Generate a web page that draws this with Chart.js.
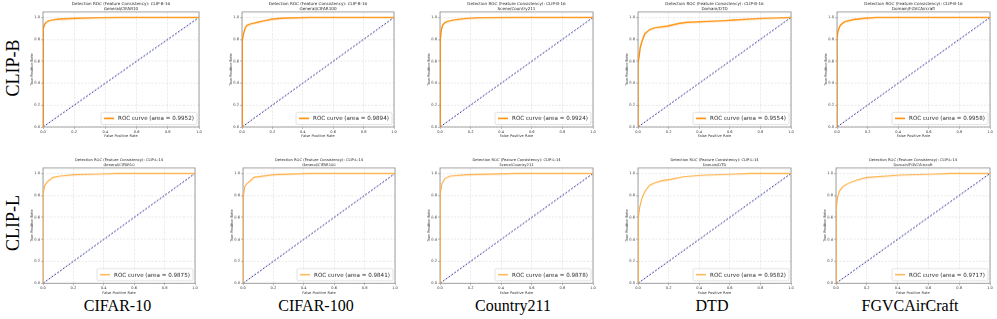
<!DOCTYPE html>
<html><head><meta charset="utf-8">
<script src="https://cdn.jsdelivr.net/npm/chart.js@4.4.1/dist/chart.umd.min.js"></script>
<style>
html,body{margin:0;padding:0;background:#fff;}
body{width:997px;height:319px;position:relative;overflow:hidden;}
.cw{position:absolute;}
.cw canvas{display:block;}
.rowlab{position:absolute;font-family:'Liberation Serif','Times New Roman',serif;font-size:18px;color:#000;transform:translate(-50%,-50%) rotate(-90deg);white-space:nowrap;line-height:1;}
.collab{position:absolute;font-family:'Liberation Serif','Times New Roman',serif;font-size:16px;color:#000;transform:translate(-50%,-50%);white-space:nowrap;line-height:1;}
</style></head><body>
<script>
// ---------------- DATA ----------------
const rowModels = ['CLIP-B-16', 'CLIP-L-14'];
const rowLabels = ['CLIP-B', 'CLIP-L'];
const colLabels = ['CIFAR-10', 'CIFAR-100', 'Country211', 'DTD', 'FGVCAirCraft'];
const subsets = ['General/CIFAR10', 'General/CIFAR100', 'Scene/Country211', 'Domain/DTD', 'Domain/FGVCAircraft'];
const aucB = [0.9952, 0.9894, 0.9924, 0.9554, 0.9958];
const aucL = [0.9875, 0.9841, 0.9878, 0.9582, 0.9717];
const axisTicks = [0.0, 0.2, 0.4, 0.6, 0.8, 1.0];
const diagX = [0, 1];
const diagY = [0, 1];

// CLIP-B-16 ROC curves (FPR / TPR)
const fprB_CIFAR10 = [0, 0, 0.001, 0.004, 0.01, 0.02, 0.035, 0.06, 0.1, 0.2, 0.35, 0.5, 1];
const tprB_CIFAR10 = [0, 0.6, 0.86, 0.9, 0.935, 0.955, 0.968, 0.977, 0.984, 0.992, 0.997, 1, 1];
const fprB_CIFAR100 = [0, 0, 0.003, 0.01, 0.02, 0.03, 0.05, 0.07, 0.1, 0.14, 0.2, 0.27, 0.45, 1];
const tprB_CIFAR100 = [0, 0.6, 0.79, 0.85, 0.9, 0.925, 0.937, 0.945, 0.955, 0.967, 0.985, 0.994, 1, 1];
const fprB_Country211 = [0, 0, 0.003, 0.008, 0.017, 0.03, 0.043, 0.087, 0.17, 0.26, 0.5, 1];
const tprB_Country211 = [0, 0.45, 0.8, 0.88, 0.93, 0.95, 0.96, 0.977, 0.99, 0.997, 1, 1];
const fprB_DTD = [0, 0, 0.007, 0.015, 0.028, 0.044, 0.077, 0.11, 0.19, 0.27, 0.32, 0.56, 0.62, 0.8, 1];
const tprB_DTD = [0, 0.59, 0.64, 0.73, 0.79, 0.85, 0.89, 0.905, 0.92, 0.945, 0.955, 0.97, 0.975, 0.99, 1];
const fprB_FGVC = [0, 0, 0.007, 0.022, 0.05, 0.105, 0.19, 0.26, 1];
const tprB_FGVC = [0, 0.81, 0.88, 0.93, 0.96, 0.98, 0.994, 1, 1];

// CLIP-L-14 ROC curves (FPR / TPR)
const fprL_CIFAR10 = [0, 0, 0.002, 0.011, 0.033, 0.066, 0.11, 0.2, 0.37, 0.48, 1];
const tprL_CIFAR10 = [0, 0.51, 0.815, 0.89, 0.93, 0.963, 0.975, 0.988, 0.994, 1, 1];
const fprL_CIFAR100 = [0, 0, 0.004, 0.011, 0.026, 0.048, 0.07, 0.1, 0.2, 0.376, 0.44, 1];
const tprL_CIFAR100 = [0, 0.69, 0.785, 0.877, 0.908, 0.932, 0.963, 0.97, 0.988, 0.997, 1, 1];
const fprL_Country211 = [0, 0, 0.004, 0.013, 0.033, 0.065, 0.175, 0.5, 1];
const tprL_Country211 = [0, 0.63, 0.82, 0.91, 0.954, 0.976, 0.988, 1, 1];
const fprL_DTD = [0, 0, 0.004, 0.011, 0.022, 0.033, 0.05, 0.077, 0.11, 0.153, 0.208, 0.295, 0.405, 0.624, 0.73, 1];
const tprL_DTD = [0, 0.54, 0.6, 0.69, 0.755, 0.8, 0.847, 0.893, 0.914, 0.933, 0.945, 0.969, 0.982, 0.994, 1, 1];
const fprL_FGVC = [0, 0, 0.004, 0.011, 0.022, 0.048, 0.09, 0.134, 0.2, 0.416, 0.632, 0.74, 1];
const tprL_FGVC = [0, 0.48, 0.69, 0.786, 0.84, 0.884, 0.917, 0.939, 0.963, 0.985, 0.994, 1, 1];

const curves = [
  [[fprB_CIFAR10, tprB_CIFAR10], [fprB_CIFAR100, tprB_CIFAR100], [fprB_Country211, tprB_Country211], [fprB_DTD, tprB_DTD], [fprB_FGVC, tprB_FGVC]],
  [[fprL_CIFAR10, tprL_CIFAR10], [fprL_CIFAR100, tprL_CIFAR100], [fprL_Country211, tprL_Country211], [fprL_DTD, tprL_DTD], [fprL_FGVC, tprL_FGVC]]
];
const aucs = [aucB, aucL];

// ---------------- LAYOUT (pixels) ----------------
const plotX0 = [[43, 242, 440, 638, 837], [43, 243, 440, 638, 836]];
const plotX1 = [[199, 394, 593, 791, 990], [195, 395, 593, 791, 990]];
const plotTop = [11.9, 167.9];   // y = 1.05
const plotBot = [126, 282.3];    // y = 0
const canvasTop = [0, 154];
const yAxisW = 13, xAxisH = 11.5, padRight = 5;
const curveColor = ['#ff8c00', '#ffaa3a'];
const curveWidth = [1.4, 1.1];
const FONT = "'DejaVu Sans', sans-serif";

const decor = {
  id: 'rocDecor',
  beforeDatasetsDraw(chart) {
    const {ctx, chartArea: a} = chart;
    ctx.save();
    ctx.strokeStyle = '#8a8a8a';
    ctx.lineWidth = 0.8;
    ctx.strokeRect(a.left, a.top, a.right - a.left, a.bottom - a.top);
    ctx.restore();
  },
  afterDraw(chart) {
    const o = chart.options.plugins.rocDecor;
    const {ctx, chartArea: a} = chart;
    ctx.save();
    // title
    const cx = (a.left + a.right) / 2;
    ctx.fillStyle = '#222';
    ctx.textAlign = 'center';
    ctx.textBaseline = 'middle';
    ctx.font = o.titleSize + 'px ' + FONT;
    ctx.fillText(o.title[0], cx, a.top - 8);
    ctx.fillText(o.title[1], cx, a.top - 2.6);
    // legend
    const bw = 96, bh = 12;
    const bx = a.right - 2 - bw, by = a.bottom - 2.5 - bh;
    ctx.beginPath();
    if (ctx.roundRect) ctx.roundRect(bx, by, bw, bh, 1.5); else ctx.rect(bx, by, bw, bh);
    ctx.fillStyle = 'rgba(255,255,255,0.85)';
    ctx.fill();
    ctx.strokeStyle = '#d0d0d0';
    ctx.lineWidth = 0.6;
    ctx.stroke();
    const ds = chart.data.datasets[0];
    ctx.strokeStyle = ds.borderColor;
    ctx.lineWidth = ds.borderWidth + 0.2;
    ctx.beginPath();
    ctx.moveTo(bx + 3, by + bh / 2);
    ctx.lineTo(bx + 13, by + bh / 2);
    ctx.stroke();
    ctx.fillStyle = '#222';
    ctx.textAlign = 'left';
    let fs = 6;
    ctx.font = fs + 'px ' + FONT;
    const w = ctx.measureText(ds.label).width;
    fs = fs * 76 / w;
    ctx.font = fs + 'px ' + FONT;
    ctx.fillText(ds.label, bx + 17, by + bh / 2 + 0.3);
    ctx.restore();
  }
};

function makeScale(isX) {
  return {
    type: 'linear',
    min: 0,
    max: isX ? 1 : 1.05,
    afterBuildTicks: s => { s.ticks = axisTicks.map(v => ({value: v})); },
    ticks: {
      font: {size: 3.6, family: FONT},
      color: '#333',
      padding: 1,
      maxRotation: 0,
      autoSkip: false,
      callback: v => Number(v).toFixed(1)
    },
    grid: {color: '#dadada', lineWidth: 0.6, drawTicks: true, tickLength: 2, tickColor: '#777', tickWidth: 0.5},
    border: {display: false, dash: [2, 1.5]},
    title: {display: true, text: isX ? 'False Positive Rate' : 'True Positive Rate', font: {size: 3.6, family: FONT}, color: '#333', padding: 0},
    afterFit: s => { if (isX) s.height = xAxisH; else s.width = yAxisW; }
  };
}

for (let r = 0; r < 2; r++) {
  for (let c = 0; c < 5; c++) {
    const x0 = plotX0[r][c], x1 = plotX1[r][c];
    const left = x0 - yAxisW;
    const top = canvasTop[r];
    const width = (x1 - x0) + yAxisW + padRight;
    const height = plotBot[r] - top + xAxisH;
    const div = document.createElement('div');
    div.className = 'cw';
    div.style.left = left + 'px';
    div.style.top = top + 'px';
    div.style.width = width + 'px';
    div.style.height = height + 'px';
    const cv = document.createElement('canvas');
    div.appendChild(cv);
    document.body.appendChild(div);
    const [fx, ty] = curves[r][c];
    new Chart(cv, {
      type: 'scatter',
      data: {
        datasets: [
          {
            label: 'ROC curve (area = ' + aucs[r][c].toFixed(4) + ')',
            data: fx.map((v, i) => ({x: v, y: ty[i]})),
            showLine: true, borderColor: curveColor[r], backgroundColor: curveColor[r],
            borderWidth: curveWidth[r], pointRadius: 0, tension: 0, fill: false
          },
          {
            label: 'chance',
            data: diagX.map((v, i) => ({x: v, y: diagY[i]})),
            showLine: true, borderColor: '#1f1f8f', borderWidth: 0.9, borderDash: [2, 1.5],
            pointRadius: 0, tension: 0, fill: false
          }
        ]
      },
      options: {
        responsive: true,
        maintainAspectRatio: false,
        animation: false,
        devicePixelRatio: 1,
        layout: {padding: {left: 0, right: padRight, top: plotTop[r] - top, bottom: 0}},
        plugins: {
          legend: {display: false},
          tooltip: {enabled: false},
          rocDecor: {title: ['Detection ROC (Feature Consistency): ' + rowModels[r], subsets[c]], titleSize: r === 0 ? 4.1 : 3.7}
        },
        scales: {x: makeScale(true), y: makeScale(false)}
      },
      plugins: [decor]
    });
  }
}

// row labels
const rowCenterY = [68, 223];
rowLabels.forEach((t, i) => {
  const d = document.createElement('div');
  d.className = 'rowlab';
  d.textContent = t;
  d.style.left = '13px';
  d.style.top = rowCenterY[i] + 'px';
  document.body.appendChild(d);
});
// column labels
const colCenterX = [117.5, 316, 513, 712, 910];
colLabels.forEach((t, i) => {
  const d = document.createElement('div');
  d.className = 'collab';
  d.textContent = t;
  d.style.left = colCenterX[i] + 'px';
  d.style.top = '306px';
  document.body.appendChild(d);
});
</script>
</body></html>
